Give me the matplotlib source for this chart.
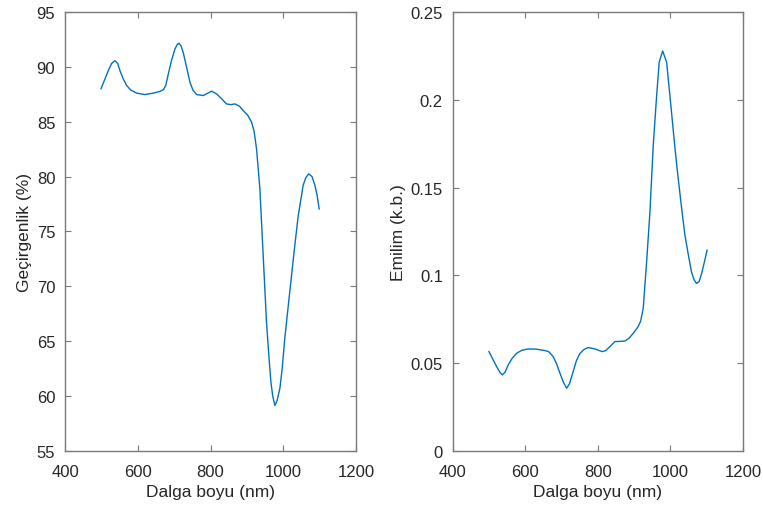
import matplotlib
matplotlib.use("Agg")
import matplotlib.pyplot as plt

plt.rcParams['font.family'] = ['Liberation Sans', 'DejaVu Sans']

# transmission curve (left panel)
wl_t = [499, 510, 519, 528, 537, 545, 551, 560, 569.5, 580, 597, 620, 642.6, 660,
        670, 677, 684, 693, 702, 708, 713, 719, 725, 734, 743.4, 752, 762, 780,
        803, 816.8, 830, 844, 856, 867, 880, 890, 902, 913, 920, 926.6, 935.7,
        944.8, 954, 961, 966, 971, 977, 983, 990.7, 997, 1004, 1013, 1022.8,
        1032, 1041, 1054.7, 1062, 1070, 1079, 1087, 1093, 1098.7]
trans = [88.0, 88.9, 89.65, 90.3, 90.56, 90.3, 89.65, 88.9, 88.3, 87.9, 87.6, 87.47,
         87.6, 87.75, 87.9, 88.3, 89.35, 90.6, 91.6, 92.0, 92.15, 91.9, 91.3, 90.0,
         88.6, 87.85, 87.47, 87.38, 87.78, 87.53, 87.1, 86.62, 86.55, 86.62, 86.4,
         86.0, 85.6, 84.95, 84.1, 82.5, 78.9, 72.8, 66.7, 63.4, 61.3, 60.0, 59.15,
         59.6, 60.7, 62.5, 65.2, 68.0, 71.0, 73.8, 76.4, 79.2, 79.9, 80.25, 80.0,
         79.2, 78.3, 77.05]

# absorbance curve (right panel)
wl_a = [500, 510, 521, 530, 536.7, 544, 553, 564, 576, 590, 608, 630, 654, 665,
        677, 686, 695.6, 705, 714, 722, 732, 741, 750.7, 762, 773.6, 792, 812,
        822, 833, 847, 860, 874.6, 886, 897.5, 911, 918, 925, 934.4, 943.5, 952.6,
        962, 969, 978.5, 989.5, 1003, 1012, 1021.5, 1031, 1040, 1050, 1058, 1065,
        1072, 1079, 1086, 1094, 1101]
absorb = [0.0566, 0.0525, 0.0481, 0.0448, 0.0433, 0.0448, 0.049, 0.0528, 0.0556,
          0.0573, 0.0581, 0.0580, 0.0572, 0.0565, 0.0537, 0.0498, 0.0443, 0.0392,
          0.0357, 0.0384, 0.0452, 0.0515, 0.0556, 0.0578, 0.0589, 0.0581, 0.0566,
          0.0572, 0.0594, 0.0623, 0.0624, 0.0626, 0.0642, 0.067, 0.0708, 0.074,
          0.0812, 0.1077, 0.136, 0.174, 0.2023, 0.2213, 0.2278, 0.2213, 0.1929,
          0.1735, 0.155, 0.138, 0.1228, 0.111, 0.102, 0.0975, 0.0954, 0.0965,
          0.1011, 0.108, 0.1143]

x_ticks = [400, 600, 800, 1000, 1200]
t_ticks = [55, 60, 65, 70, 75, 80, 85, 90, 95]
a_ticks = [0, 0.05, 0.1, 0.15, 0.2, 0.25]
a_labels = ['0', '0.05', '0.1', '0.15', '0.2', '0.25']

line_color = '#0072BD'
txt = '#262626'
frame = '#7a7a7a'

fig = plt.figure(figsize=(7.63, 5.10), dpi=100)
ax1 = fig.add_axes([0.0852, 0.1137, 0.3814, 0.861])
ax2 = fig.add_axes([0.5933, 0.1137, 0.3805, 0.861])

ax1.plot(wl_t, trans, color=line_color, lw=1.0)
ax1.set_xlim(400, 1200)
ax1.set_ylim(55, 95)
ax1.set_xticks(x_ticks)
ax1.set_yticks(t_ticks)
ax1.set_xlabel('Dalga boyu (nm)', fontsize=12.5, color=txt, labelpad=4)
ax1.set_ylabel('Geçirgenlik (%)', fontsize=12.5, color=txt, labelpad=3)

ax2.plot(wl_a, absorb, color=line_color, lw=1.0)
ax2.set_xlim(400, 1200)
ax2.set_ylim(0, 0.25)
ax2.set_xticks(x_ticks)
ax2.set_yticks(a_ticks)
ax2.set_yticklabels(a_labels)
ax2.set_xlabel('Dalga boyu (nm)', fontsize=12.5, color=txt, labelpad=4)
ax2.set_ylabel('Emilim (k.b.)', fontsize=12.5, color=txt, labelpad=3)

for ax in (ax1, ax2):
    ax.tick_params(direction='in', top=True, right=True, length=4, width=0.8,
                   color=frame, labelsize=12, labelcolor=txt)
    ax.tick_params(axis='x', pad=9)
    ax.tick_params(axis='y', pad=7)
    for s in ax.spines.values():
        s.set_color(frame)
        s.set_linewidth(1.0)

fig.savefig('out.png', dpi=100)
